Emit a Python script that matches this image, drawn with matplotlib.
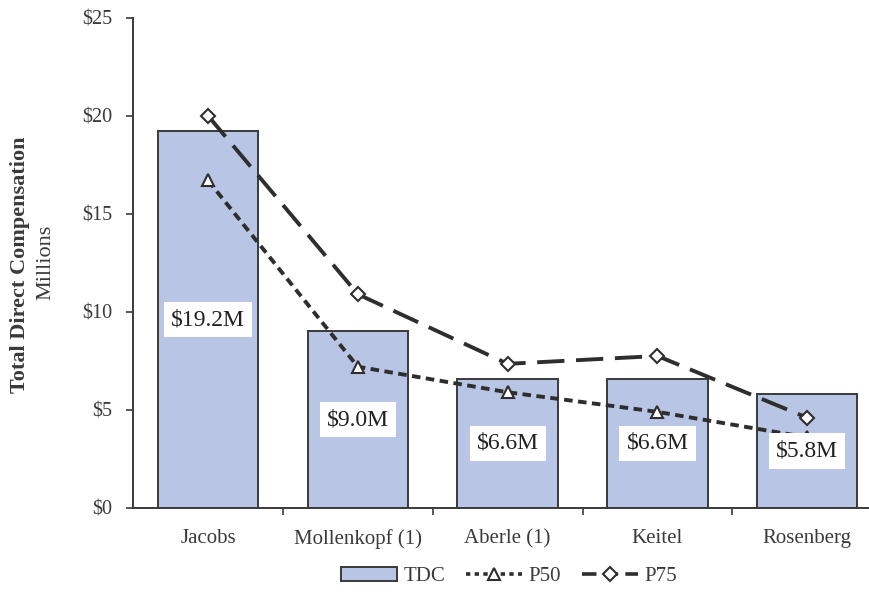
import matplotlib
matplotlib.use("Agg")
import matplotlib.pyplot as plt
from matplotlib.patches import Patch
from matplotlib.lines import Line2D

plt.rcParams['font.family'] = ['Liberation Serif', 'DejaVu Serif']

executives = ["Jacobs", "Mollenkopf (1)", "Aberle (1)", "Keitel", "Rosenberg"]
tdc = [19.2, 9.0, 6.6, 6.6, 5.8]
p50 = [16.7, 7.2, 5.9, 4.9, 3.6]
p75 = [20.0, 10.9, 7.35, 7.75, 4.6]
bar_labels = ["$19.2M", "$9.0M", "$6.6M", "$6.6M", "$5.8M"]
yticks = [0, 5, 10, 15, 20, 25]

bar_color = "#b9c5e5"
edge = "#3a3a3a"
line_color = "#2e2e2e"
text_color = "#3a3a3a"

fig = plt.figure(figsize=(8.7, 5.92), dpi=100)
ax = fig.add_axes([0.153, 0.142, 0.861, 0.828])

x = list(range(len(executives)))
ax.bar(x, tdc, width=0.67, color=bar_color, edgecolor=edge, linewidth=1.4, zorder=2)

ax.plot(x, p50, color=line_color, lw=2.8, dashes=(2.2, 1.4), marker='^', ms=8,
        mfc='white', mec=line_color, mew=1.5, zorder=3)
ax.plot(x, p75, color=line_color, lw=2.8, dashes=(7, 3), marker='D', ms=7,
        mfc='white', mec=line_color, mew=1.5, zorder=3)

for xi, v, lab in zip(x, tdc, bar_labels):
    ax.text(xi, v / 2, lab, ha='center', va='center', fontsize=17, color='#222222',
            bbox=dict(boxstyle='square,pad=0.3', fc='white', ec='none'), zorder=4)

ax.set_xlim(-0.5, 4.5)
ax.set_ylim(0, 25)
ax.set_yticks(yticks)
ax.set_yticklabels([f"${t}" for t in yticks], fontsize=14.5, color=text_color)
ax.set_xticks(x)
ax.set_xticklabels(executives, fontsize=15, color=text_color)
ax.tick_params(axis='x', length=0, pad=15)
ax.set_xticks([0.5, 1.5, 2.5, 3.5], minor=True)
ax.tick_params(axis='x', which='minor', length=5, width=1.2, color=edge, direction='out')
ax.tick_params(axis='y', length=5, width=1.2, color=edge, direction='out', pad=10)

for s in ['top', 'right']:
    ax.spines[s].set_visible(False)
for s in ['left', 'bottom']:
    ax.spines[s].set_color(edge)
    ax.spines[s].set_linewidth(1.4)

fig.text(0.023, 0.553, "Total Direct Compensation", rotation=90, ha='center', va='center',
         fontsize=16, fontweight='bold', color=text_color)
fig.text(0.053, 0.557, "Millions", rotation=90, ha='center', va='center',
         fontsize=16, color=text_color)

handles = [
    Patch(facecolor=bar_color, edgecolor=edge, linewidth=1.4, label="TDC"),
    Line2D([], [], color=line_color, lw=2.6, dashes=(1.2, 1.2), marker='^', ms=8,
           mfc='white', mec=line_color, mew=1.5, label="P50"),
    Line2D([], [], color=line_color, lw=2.6, dashes=(4, 2), marker='D', ms=7,
           mfc='white', mec=line_color, mew=1.5, label="P75"),
]
fig.legend(handles=handles, loc='center', bbox_to_anchor=(0.585, 0.026), ncol=3,
           frameon=False, fontsize=15, handlelength=2.7, columnspacing=1.0,
           handletextpad=0.3, labelcolor=text_color)

fig.savefig("out.png", dpi=100)
